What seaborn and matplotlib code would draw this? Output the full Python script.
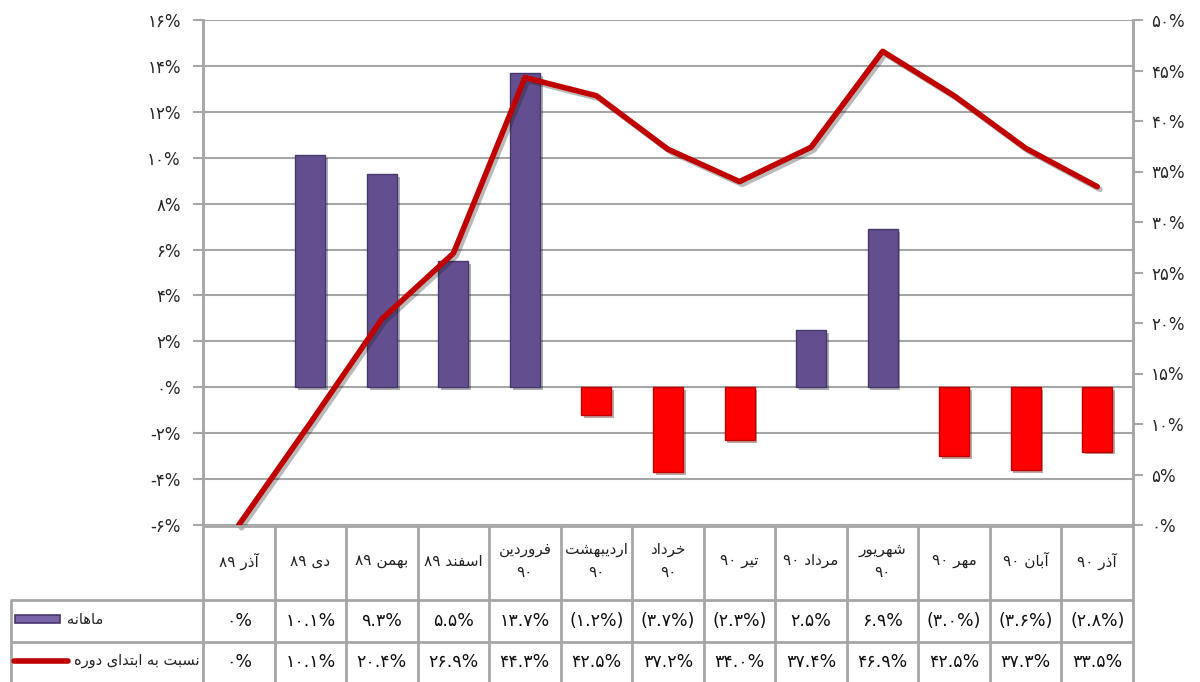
import numpy as np
import pandas as pd
import matplotlib
matplotlib.use('Agg')
import matplotlib.pyplot as plt
import matplotlib.patheffects as pe
from matplotlib.patches import Rectangle
import seaborn as sns

# Chart data
months = ['آذر ۸۹', 'دی ۸۹', 'بهمن ۸۹', 'اسفند ۸۹', 'فروردین ۹۰', 'اردیبهشت ۹۰',
          'خرداد ۹۰', 'تیر ۹۰', 'مرداد ۹۰', 'شهریور ۹۰', 'مهر ۹۰', 'آبان ۹۰', 'آذر ۹۰']
monthly = [0.0, 10.1, 9.3, 5.5, 13.7, -1.2, -3.7, -2.3, 2.5, 6.9, -3.0, -3.6, -2.8]
cumulative = [0.0, 10.1, 20.4, 26.9, 44.3, 42.5, 37.2, 34.0, 37.4, 46.9, 42.5, 37.3, 33.5]
wrapped = ['فروردین ۹۰', 'اردیبهشت ۹۰', 'خرداد ۹۰', 'شهریور ۹۰']
label_monthly = 'ماهانه'
label_cum = 'نسبت به ابتدای دوره'
left_ticks = list(range(-6, 17, 2))
right_ticks = list(range(0, 51, 5))

PURPLE = '#634f90'
PURPLE_EDGE = '#47386b'
RED_BAR = '#ff0000'
RED_EDGE = '#c00000'
LINE_RED = '#c00000'
GRID = '#a6a6a6'

# matplotlib has no Arabic shaping, so pick presentation forms by hand
# (isolated, final, initial, medial)
FORMS = {
    '\u0622': '\uFE81\uFE82',
    '\u0627': '\uFE8D\uFE8E',
    '\u0628': '\uFE8F\uFE90\uFE91\uFE92',
    '\u062A': '\uFE95\uFE96\uFE97\uFE98',
    '\u062E': '\uFEA5\uFEA6\uFEA7\uFEA8',
    '\u062F': '\uFEA9\uFEAA',
    '\u0630': '\uFEAB\uFEAC',
    '\u0631': '\uFEAD\uFEAE',
    '\u0633': '\uFEB1\uFEB2\uFEB3\uFEB4',
    '\u0634': '\uFEB5\uFEB6\uFEB7\uFEB8',
    '\u0641': '\uFED1\uFED2\uFED3\uFED4',
    '\u0645': '\uFEE1\uFEE2\uFEE3\uFEE4',
    '\u0646': '\uFEE5\uFEE6\uFEE7\uFEE8',
    '\u0647': '\uFEE9\uFEEA\uFEEB\uFEEC',
    '\u0648': '\uFEED\uFEEE',
    '\u06CC': '\uFBFC\uFBFD\uFBFE\uFBFF',
}
FA_DIGITS = str.maketrans('0123456789', '۰۱۲۳۴۵۶۷۸۹')


def shape_word(w):
    if not any(ch in FORMS for ch in w):
        return w
    out = []
    for i, ch in enumerate(w):
        f = FORMS.get(ch)
        if f is None:
            out.append(ch)
            continue
        prev = i > 0 and len(FORMS.get(w[i - 1], '')) == 4
        nxt = i < len(w) - 1 and len(f) == 4 and w[i + 1] in FORMS
        idx = {(False, False): 0, (True, False): 1,
               (False, True): 2, (True, True): 3}[(prev, nxt)]
        out.append(f[idx])
    return ''.join(reversed(out))


def rtl(text):
    return ' '.join(reversed([shape_word(t) for t in text.split(' ')]))


def header(text):
    if text in wrapped:
        word, num = text.split(' ')
        return shape_word(word) + '\n' + num
    return rtl(text)


def fmt_month(v):
    if v == 0:
        s = '0%'
    elif v < 0:
        s = '(%.1f%%)' % abs(v)
    else:
        s = '%.1f%%' % v
    return s.translate(FA_DIGITS)


def fmt_cum(v):
    s = '0%' if v == 0 else '%.1f%%' % v
    return s.translate(FA_DIGITS)


def fmt_tick(v):
    return ('%d%%' % v).translate(FA_DIGITS)


sns.set_theme(style='white')
plt.rcParams['font.family'] = ['DejaVu Sans']

df = pd.DataFrame({'month': months, 'monthly': monthly, 'cumulative': cumulative})
bar_colors = [PURPLE if v >= 0 else RED_BAR for v in monthly]

fig = plt.figure(figsize=(12, 6.82), dpi=100)
W, H = 1200., 682.
ax = fig.add_axes([203 / W, 1 - 525 / H, 930 / W, 505 / H])

sns.barplot(data=df, x='month', y='monthly', hue='month', palette=bar_colors,
            legend=False, width=0.42, saturation=1, ax=ax, zorder=3)
for patch, v in zip(ax.patches, monthly):
    if v == 0:
        patch.set_visible(False)
        continue
    patch.set_edgecolor(PURPLE_EDGE if v > 0 else RED_EDGE)
    patch.set_linewidth(1)
    patch.set_path_effects([pe.SimplePatchShadow(offset=(2, -2), alpha=0.35),
                            pe.Normal()])

ax.set_xlim(-0.5, 12.5)
ax.set_ylim(-6, 16)
ax.set_yticks(left_ticks)
ax.set_yticklabels([fmt_tick(v) for v in left_ticks])
ax.set_xticks([])
ax.set_xlabel('')
ax.set_ylabel('')
ax.yaxis.grid(True, color=GRID, lw=1.5)
ax.set_axisbelow(True)
ax.tick_params(axis='y', direction='out', length=7, width=1.5, color=GRID,
               labelsize=12, pad=9, left=True)

ax2 = ax.twinx()
sns.lineplot(x=np.arange(len(months)), y=cumulative, ax=ax2, color=LINE_RED,
             lw=4, clip_on=False, zorder=5,
             path_effects=[pe.SimpleLineShadow(offset=(2, -2), alpha=0.3), pe.Normal()])
ax2.set_xlim(-0.5, 12.5)
ax2.set_ylim(0, 50)
ax2.set_yticks(right_ticks)
ax2.set_yticklabels([fmt_tick(v) for v in right_ticks])
ax2.set_ylabel('')
ax2.tick_params(axis='y', direction='out', length=7, width=1.5, color=GRID,
                labelsize=12, pad=6, right=True)

for a in (ax, ax2):
    for side in ('top', 'bottom'):
        a.spines[side].set_visible(False)
    for side in ('left', 'right'):
        a.spines[side].set_color(GRID)
        a.spines[side].set_linewidth(1.8)

# Data table underneath, columns aligned with the categories
tax = fig.add_axes([10 / W, 0, 1123 / W, 157 / H])
x0 = -0.5 - 193 / 71.54
tax.set_xlim(x0, 12.5)
tax.set_ylim(157, 0)
tax.axis('off')

tax.vlines(np.arange(len(months) + 1) - 0.5, 1, 157, color=GRID, lw=2, clip_on=False)
tax.vlines([x0 + 0.01], 75, 157, color=GRID, lw=2, clip_on=False)
tax.hlines([75, 117], x0, 12.5, color=GRID, lw=2, clip_on=False)
tax.hlines([1], -0.5, 12.5, color=GRID, lw=2, clip_on=False)

for i, m in enumerate(months):
    tax.text(i, 36, header(m), ha='center', va='center', fontsize=11,
             linespacing=1.7, color='#222222')
    tax.text(i, 96, fmt_month(monthly[i]), ha='center', va='center',
             fontsize=12.5, color='#111111')
    tax.text(i, 137, fmt_cum(cumulative[i]), ha='center', va='center',
             fontsize=12.5, color='#111111')

# legend keys in the table
tax.add_patch(Rectangle((x0 + 5 / 71.54, 90), 45 / 71.54, 8, facecolor='#7a64a8',
                        edgecolor=PURPLE_EDGE, lw=1.2, clip_on=False))
tax.text(x0 + 57 / 71.54, 95, rtl(label_monthly), ha='left', va='center',
         fontsize=10.5, color='#222222')
tax.plot([x0 + 4 / 71.54, x0 + 58 / 71.54], [136, 136], color=LINE_RED, lw=4,
         solid_capstyle='round', clip_on=False)
tax.text(x0 + 190 / 71.54, 136, rtl(label_cum), ha='right', va='center',
         fontsize=10.5, color='#222222')

fig.savefig('out.png', dpi=100)
